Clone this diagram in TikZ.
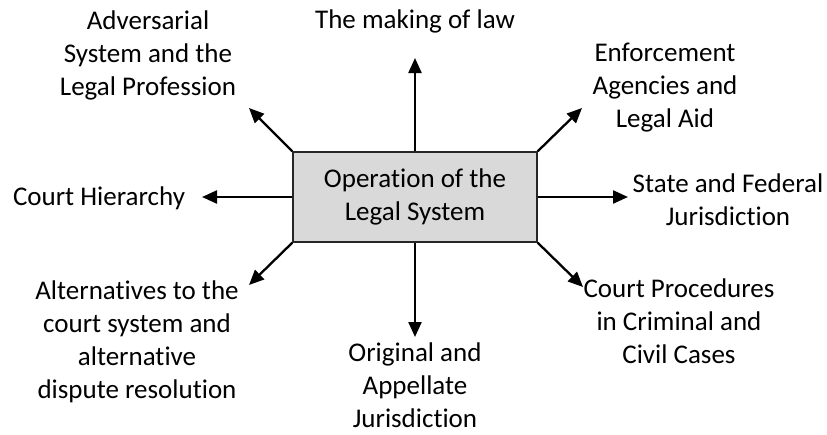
\documentclass[tikz,border=0pt]{standalone}
\usepackage{fontspec}
\setmainfont[Ligatures=NoCommon]{Carlito}
\usetikzlibrary{arrows.meta}
\begin{document}
\begin{tikzpicture}[x=1pt,y=-1pt,
  lbl/.style={anchor=base,align=center,inner sep=0pt,font=\fontsize{27}{33}\selectfont},
  hub/.style={draw=black!85,line width=1.3pt,fill=black!15,minimum width=244pt,minimum height=90pt,inner sep=0pt,align=center,font=\fontsize{27}{33}\selectfont},
  arr/.style={line width=2.3pt,-{Triangle[length=15pt,width=13pt]}}]
\useasboundingbox (0,0) rectangle (827,434);
\node[hub] (hub) at (415,197) {Operation of the\\Legal System};
\node[lbl] (law) at (415,28) {The making of law};
\node[lbl] (adv) at (148,95) {Adversarial\\System and the\\Legal Profession};
\node[lbl] (enf) at (665,127) {Enforcement\\Agencies and\\Legal Aid};
\node[lbl] (hier) at (99,205) {Court Hierarchy};
\node[lbl] (state) at (728,225) {State and Federal\\Jurisdiction};
\node[lbl] (proc) at (679,363) {Court Procedures\\in Criminal and\\Civil Cases};
\node[lbl] (alt) at (137,398) {Alternatives to the\\court system and\\alternative\\dispute resolution};
\node[lbl] (orig) at (415,427) {Original and\\Appellate\\Jurisdiction};
\coordinate (tN) at (415,58);
\coordinate (tNW) at (249,108);
\coordinate (tNE) at (582,108);
\coordinate (tW) at (202,197);
\coordinate (tE) at (628,197);
\coordinate (tSW) at (249,285);
\coordinate (tSE) at (583,287);
\coordinate (tS) at (415,337);
\draw[arr] (hub.north) -- (tN);
\draw[arr] (hub.north west) -- (tNW);
\draw[arr] (hub.north east) -- (tNE);
\draw[arr] (hub.west) -- (tW);
\draw[arr] (hub.east) -- (tE);
\draw[arr] (hub.south west) -- (tSW);
\draw[arr] (hub.south east) -- (tSE);
\draw[arr] (hub.south) -- (tS);
\end{tikzpicture}
\end{document}
